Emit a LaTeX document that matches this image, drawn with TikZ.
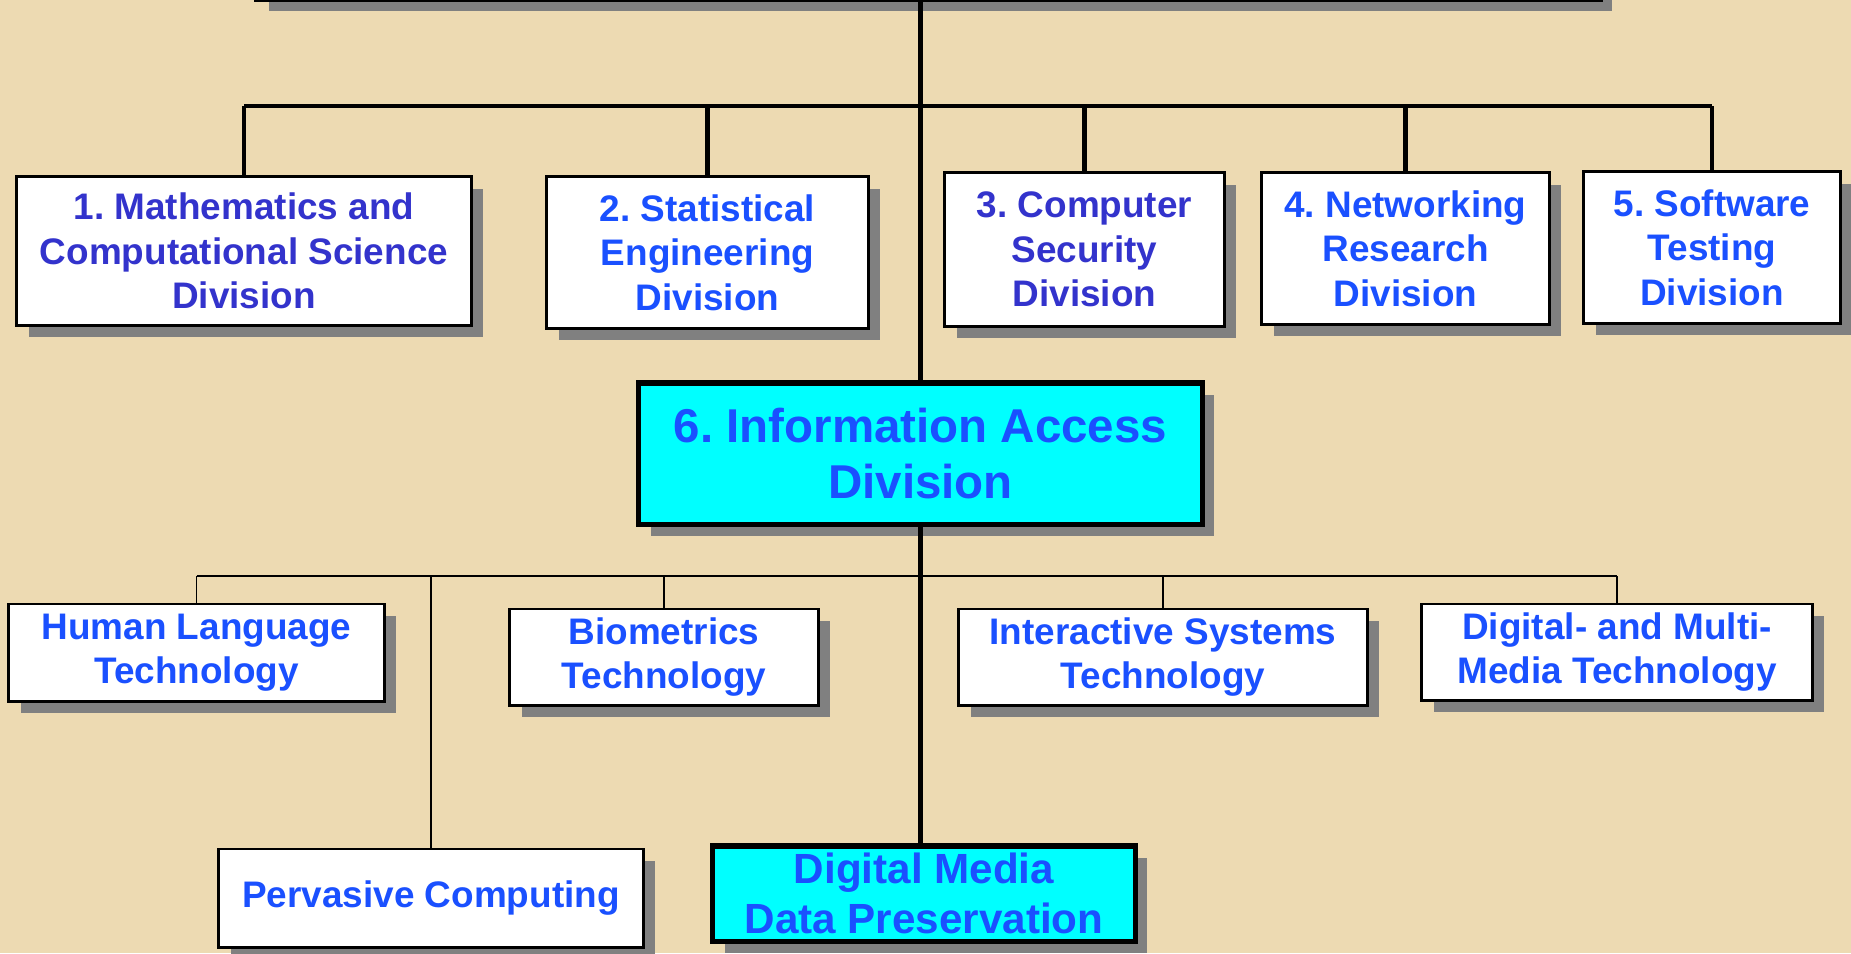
\documentclass[tikz,border=0pt]{standalone}
\usepackage{fontspec}
\setmainfont{Liberation Sans}
\frenchspacing
\definecolor{Parchment} {RGB}{237,218,178}
\definecolor{BoxShadow} {RGB}{128,128,128}
\definecolor{DivViolet} {RGB}{51,51,204}
\definecolor{DivBlue}   {RGB}{26,80,255}
\definecolor{KeyCyan}   {RGB}{0,255,255}
\usetikzlibrary{shadows}

\tikzset{
  unit/.style={draw=black,line width=0.85pt,fill=white,align=center,
       inner sep=0pt,text=DivBlue,
       font=\fontsize{10.5}{12.6}\selectfont\bfseries,
       drop shadow={shadow xshift=0.12cm,shadow yshift=-0.12cm,
                    fill=BoxShadow,opacity=1}},
  keyunit/.style={unit,fill=KeyCyan,line width=1.45pt},
  trunk/.style={line width=1.5pt},
  bus/.style={line width=1.35pt},
  tap/.style={line width=1.15pt},
  thinbus/.style={line width=0.5pt},
}

\begin{document}
\begin{tikzpicture}[x=0.01cm,y=-0.01cm]
  \useasboundingbox (0,0) rectangle (1851,953);
  \clip (0,0) rectangle (1851,953);
  \fill[Parchment] (0,0) rectangle (1851,953);

  %% laboratory box, only its lower edge is in view
  \node[keyunit,minimum width=13.43cm,minimum height=1cm,anchor=south]
       (itl) at (928.5,2) {};

  %% divisions
  \node[unit,text=DivViolet,minimum width=4.54cm,minimum height=1.48cm]
       (b1) at (244,251) {1. Mathematics and\\Computational Science\\Division};
  \node[unit,minimum width=3.21cm,minimum height=1.51cm]
       (b2) at (707.5,252.5) {2. Statistical\\Engineering\\Division};
  \node[unit,text=DivViolet,minimum width=2.79cm,minimum height=1.53cm]
       (b3) at (1084.5,249.5) {3. Computer\\Security\\Division};
  \node[unit,minimum width=2.87cm,minimum height=1.51cm]
       (b4) at (1405.5,248.5) {4. Networking\\Research\\Division};
  \node[unit,minimum width=2.56cm,minimum height=1.51cm]
       (b5) at (1712,247.5) {5. Software\\Testing\\Division};
  \node[keyunit,minimum width=5.63cm,minimum height=1.41cm,
        font=\fontsize{13.5}{15.8}\selectfont\bfseries]
       (b6) at (920.5,453.5) {6. Information Access\\Division};

  %% groups of division 6
  \node[unit,minimum width=3.75cm,minimum height=0.97cm]
       (hlt) at (196.5,652.5) {Human Language\\Technology};
  \node[unit,minimum width=3.08cm,minimum height=0.96cm]
       (bio) at (664,657) {Biometrics\\Technology};
  \node[unit,minimum width=4.08cm,minimum height=0.96cm]
       (ist) at (1163,657) {Interactive Systems\\Technology};
  \node[unit,minimum width=3.90cm,minimum height=0.96cm]
       (dmt) at (1617,652) {Digital- and Multi-\\Media Technology};
  \node[unit,minimum width=4.24cm,minimum height=0.98cm]
       (perv) at (431,898) {Pervasive Computing};
  \node[keyunit,minimum width=4.22cm,minimum height=0.95cm,
        font=\fontsize{12}{14.2}\selectfont\bfseries]
       (dmdp) at (924,893.5) {Digital Media\\Data Preservation};

  %% upper level wiring
  \coordinate (tbus) at (920,106);
  \draw[trunk] (b6.north |- itl.south) -- (b6.north);
  \draw[bus] (b1.north |- tbus) -- (b5.north |- tbus);
  \foreach \d in {b1,b2,b3,b4,b5}
    \draw[tap] (\d.north) -- (\d.north |- tbus);

  %% lower level wiring
  \coordinate (lbus) at (922,576);
  \draw[trunk] (b6.south) -- (b6.south |- dmdp.north);
  \draw[thinbus] (hlt.north |- lbus) -- (dmt.north |- lbus);
  \foreach \g in {hlt,perv,bio,ist,dmt}
    \draw[thinbus] (\g.north) -- (\g.north |- lbus);
\end{tikzpicture}
\end{document}
